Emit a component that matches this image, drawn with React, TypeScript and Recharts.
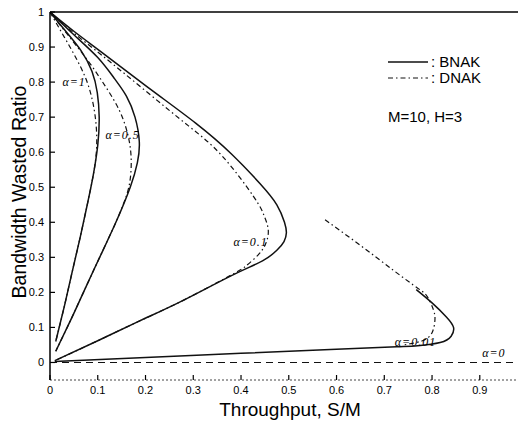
import { LineChart, Line, XAxis, YAxis, ReferenceDot } from "recharts";

// throughput (S/M) vs. bandwidth wasted ratio, one loop per alpha
const X_TICKS = [0, 0.1, 0.2, 0.3, 0.4, 0.5, 0.6, 0.7, 0.8, 0.9];
const Y_TICKS = [0, 0.1, 0.2, 0.3, 0.4, 0.5, 0.6, 0.7, 0.8, 0.9, 1];

const a1Bnak = [[0, 1], [0.03, 0.95], [0.065, 0.89], [0.088, 0.83], [0.099, 0.77], [0.103, 0.7], [0.1, 0.62], [0.09, 0.53], [0.078, 0.45], [0.062, 0.35], [0.045, 0.25], [0.03, 0.16], [0.012, 0.06]];
const a1Dnak = [[0, 1], [0.025, 0.94], [0.05, 0.88], [0.075, 0.81], [0.09, 0.74], [0.097, 0.67], [0.097, 0.6], [0.09, 0.53], [0.078, 0.45], [0.062, 0.35], [0.045, 0.25], [0.03, 0.16], [0.012, 0.06]];

const a05Bnak = [[0, 1], [0.05, 0.935], [0.1, 0.87], [0.135, 0.81], [0.16, 0.76], [0.178, 0.7], [0.187, 0.63], [0.183, 0.57], [0.168, 0.5], [0.138, 0.4], [0.104, 0.3], [0.07, 0.2], [0.043, 0.12], [0.012, 0.032]];
const a05Dnak = [[0, 1], [0.04, 0.93], [0.08, 0.86], [0.115, 0.79], [0.145, 0.72], [0.163, 0.65], [0.17, 0.58], [0.165, 0.5], [0.15, 0.44], [0.138, 0.4], [0.104, 0.3], [0.07, 0.2], [0.043, 0.12], [0.012, 0.032]];

const a01Bnak = [[0, 1], [0.05, 0.945], [0.116, 0.877], [0.21, 0.78], [0.305, 0.683], [0.38, 0.595], [0.44, 0.51], [0.475, 0.45], [0.491, 0.4], [0.495, 0.37], [0.49, 0.345], [0.475, 0.32], [0.445, 0.29], [0.38, 0.248], [0.28, 0.178], [0.19, 0.12], [0.1, 0.062], [0.01, 0.005]];
const a01Dnak = [[0, 1], [0.05, 0.94], [0.11, 0.875], [0.2, 0.775], [0.29, 0.675], [0.36, 0.59], [0.426, 0.474], [0.448, 0.42], [0.457, 0.379], [0.452, 0.34], [0.436, 0.307], [0.41, 0.275], [0.38, 0.25], [0.28, 0.178], [0.19, 0.12], [0.1, 0.062], [0.01, 0.005]];

const a001Bnak = [[0.767, 0.208], [0.8, 0.17], [0.83, 0.13], [0.845, 0.1], [0.84, 0.075], [0.817, 0.057], [0.77, 0.048], [0.726, 0.045], [0.587, 0.037], [0.4, 0.026], [0.2, 0.014], [0.01, 0.003]];
const a001Dnak = [[0.576, 0.407], [0.65, 0.334], [0.72, 0.262], [0.77, 0.212], [0.79, 0.188], [0.803, 0.15], [0.806, 0.12], [0.8, 0.085], [0.78, 0.062], [0.74, 0.05]];

const a0 = [[0, 0], [0.98, 0]];

const ALPHA_LABELS = [
  { text: "α=1", x: 0.026, y: 0.789 },
  { text: "α=0.5", x: 0.116, y: 0.638 },
  { text: "α=0.1", x: 0.384, y: 0.333 },
  { text: "α=0.01", x: 0.722, y: 0.046 },
  { text: "α=0", x: 0.905, y: 0.017 },
];

const toPts = (arr: number[][]) => arr.map(([x, y]) => ({ x, y }));

const SOLID = "#111";
const DNAK_DASH = "5 3 1.5 3";
const TICK_FONT = "'Liberation Sans', Arial, sans-serif";

const fmt = (v: number) => (v === 0 ? "0" : v === 1 ? "1" : String(v));

function LeftTick(props: any) {
  const { x, y, payload } = props;
  return (
    <g>
      <line x1={x + 6} x2={x + 11} y1={y} y2={y} stroke="#000" strokeWidth={1.2} />
      <text x={x} y={y} dy={4} textAnchor="end" fontSize={11} fontFamily={TICK_FONT} fill="#000">
        {fmt(payload.value)}
      </text>
    </g>
  );
}

function BottomTick(props: any) {
  const { x, y, payload } = props;
  return (
    <g>
      <line x1={x} x2={x} y1={y - 8} y2={y - 13} stroke="#000" strokeWidth={1.2} />
      <text x={x} y={y} dy={6} textAnchor="middle" fontSize={11} fontFamily={TICK_FONT} fill="#000">
        {fmt(payload.value)}
      </text>
    </g>
  );
}

function TopTick(props: any) {
  const { x, y } = props;
  return <line x1={x} x2={x} y1={y} y2={y + 5} stroke="#000" strokeWidth={1.2} />;
}

export default function App() {
  const solid = (data: number[][], key: string) => (
    <Line
      key={key}
      data={toPts(data)}
      dataKey="y"
      type="natural"
      stroke={SOLID}
      strokeWidth={1.5}
      dot={false}
      activeDot={false}
      isAnimationActive={false}
    />
  );
  const dashed = (data: number[][], key: string, dash = DNAK_DASH) => (
    <Line
      key={key}
      data={toPts(data)}
      dataKey="y"
      type="natural"
      stroke={SOLID}
      strokeWidth={1.2}
      strokeDasharray={dash}
      dot={false}
      activeDot={false}
      isAnimationActive={false}
    />
  );

  return (
    <div style={{ position: "absolute", left: 0, top: 0, width: 525, height: 421, background: "#fff" }}>
      <LineChart width={525} height={421} margin={{ top: 0, right: 7, bottom: 0, left: 10 }}>
        <XAxis
          xAxisId="top"
          orientation="top"
          type="number"
          domain={[0, 0.98]}
          ticks={X_TICKS}
          height={12}
          tickSize={0}
          tickMargin={0}
          tick={(p: any) => <TopTick {...p} />}
          axisLine={{ stroke: "#000", strokeWidth: 1.3 }}
          allowDataOverflow
        />
        <XAxis
          dataKey="x"
          type="number"
          domain={[0, 0.98]}
          ticks={X_TICKS}
          height={41}
          tickSize={0}
          tickMargin={8}
          tick={(p: any) => <BottomTick {...p} />}
          axisLine={{ stroke: "#444", strokeWidth: 1, strokeDasharray: "2 2" }}
          allowDataOverflow
        />
        <YAxis
          type="number"
          domain={[-0.05, 1]}
          ticks={Y_TICKS}
          width={40}
          tickSize={0}
          tickMargin={6}
          tick={(p: any) => <LeftTick {...p} />}
          axisLine={{ stroke: "#000", strokeWidth: 1.5 }}
          allowDataOverflow
        />
        {solid(a1Bnak, "a1b")}
        {dashed(a1Dnak, "a1d")}
        {solid(a05Bnak, "a05b")}
        {dashed(a05Dnak, "a05d")}
        {solid(a01Bnak, "a01b")}
        {dashed(a01Dnak, "a01d")}
        {solid(a001Bnak, "a001b")}
        {dashed(a001Dnak, "a001d")}
        {dashed(a0, "a0", "7 5")}
        {ALPHA_LABELS.map((l) => (
          <ReferenceDot
            key={l.text}
            x={l.x}
            y={l.y}
            r={0}
            isFront
            shape={(p: any) => (
              <text
                x={p.cx}
                y={p.cy}
                fontSize={12}
                fontStyle="italic"
                letterSpacing={1}
                fontFamily="'Liberation Serif', 'Times New Roman', serif"
                fill="#000"
              >
                {l.text}
              </text>
            )}
          />
        ))}
      </LineChart>
      <svg
        width={525}
        height={421}
        style={{ position: "absolute", left: 0, top: 0, pointerEvents: "none" }}
        fontFamily={TICK_FONT}
      >
        <line x1={388} x2={428} y1={62} y2={62} stroke={SOLID} strokeWidth={1.3} />
        <text x={431} y={67} fontSize={15} fill="#000">
          : BNAK
        </text>
        <line x1={388} x2={428} y1={78} y2={78} stroke={SOLID} strokeWidth={1} strokeDasharray={DNAK_DASH} />
        <text x={431} y={83} fontSize={15} fill="#000">
          : DNAK
        </text>
        <text x={388} y={122} fontSize={15} fill="#000">
          M=10, H=3
        </text>
        <text x={290} y={416} fontSize={19} textAnchor="middle" fill="#000">
          Throughput, S/M
        </text>
        <text x={26} y={192} fontSize={19.5} textAnchor="middle" fill="#000" transform="rotate(-90 26 192)">
          Bandwidth Wasted Ratio
        </text>
      </svg>
    </div>
  );
}
